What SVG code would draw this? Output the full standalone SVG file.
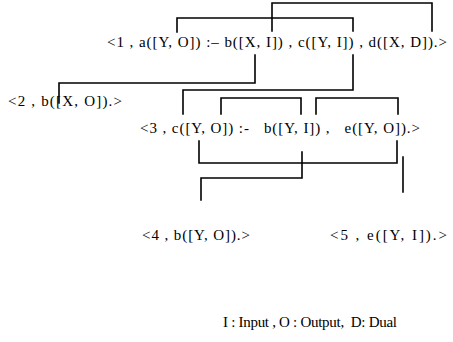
<svg xmlns="http://www.w3.org/2000/svg" width="453" height="342" viewBox="0 0 453 342">
  <style>
    .t { font-family: "Liberation Serif", "Times New Roman", serif; font-size: 15px; fill: #000; }
    .c { fill: none; stroke: #000; stroke-width: 1.6; stroke-linejoin: miter; stroke-linecap: square; }
  </style>
  <rect width="453" height="342" fill="#fff"/>
  <g id="connectors">
    <!-- clause 1 head/body links -->
    <polyline class="c" points="272,31 272,3 432,3 432,31"/>
    <polyline class="c" points="177,32 177,18 353,18 353,31"/>
    <!-- b in clause 1 to clause 2 -->
    <polyline class="c" points="255,55 255,83 59,83 59,103"/>
    <!-- c in clause 1 to clause 3 -->
    <polyline class="c" points="353,55 353,90 183,90 183,114"/>
    <!-- clause 3 links -->
    <polyline class="c" points="221,114 221,98 301,98 301,114"/>
    <polyline class="c" points="316,114 316,98 398,98 398,114"/>
    <polyline class="c" points="199,141 199,163 397,163 397,141"/>
    <polyline class="c" points="302,152 302,178 201,178 201,200"/>
    <line class="c" x1="403" y1="157" x2="403" y2="192"/>
  </g>
  <g id="clause1"><text class="t" x="107" y="47" textLength="340">&lt;1 , a([Y, O]) :– b([X, I]) , c([Y, I]) , d([X, D]).&gt;</text></g>
  <g id="clause2"><text class="t" x="8" y="106" textLength="114">&lt;2 , b([X, O]).&gt;</text></g>
  <g id="clause3"><text class="t" x="140" y="133" textLength="280" xml:space="preserve">&lt;3 , c([Y, O]) :-   b([Y, I]) ,   e([Y, O]).&gt;</text></g>
  <g id="clause4"><text class="t" x="142" y="240" textLength="108">&lt;4 , b([Y, O]).&gt;</text></g>
  <g id="clause5"><text class="t" x="330" y="240" textLength="117">&lt;5 , e([Y, I]).&gt;</text></g>
  <g id="legend"><text class="t" x="223" y="327" textLength="174" xml:space="preserve">I : Input , O : Output,  D: Dual</text></g>
</svg>
